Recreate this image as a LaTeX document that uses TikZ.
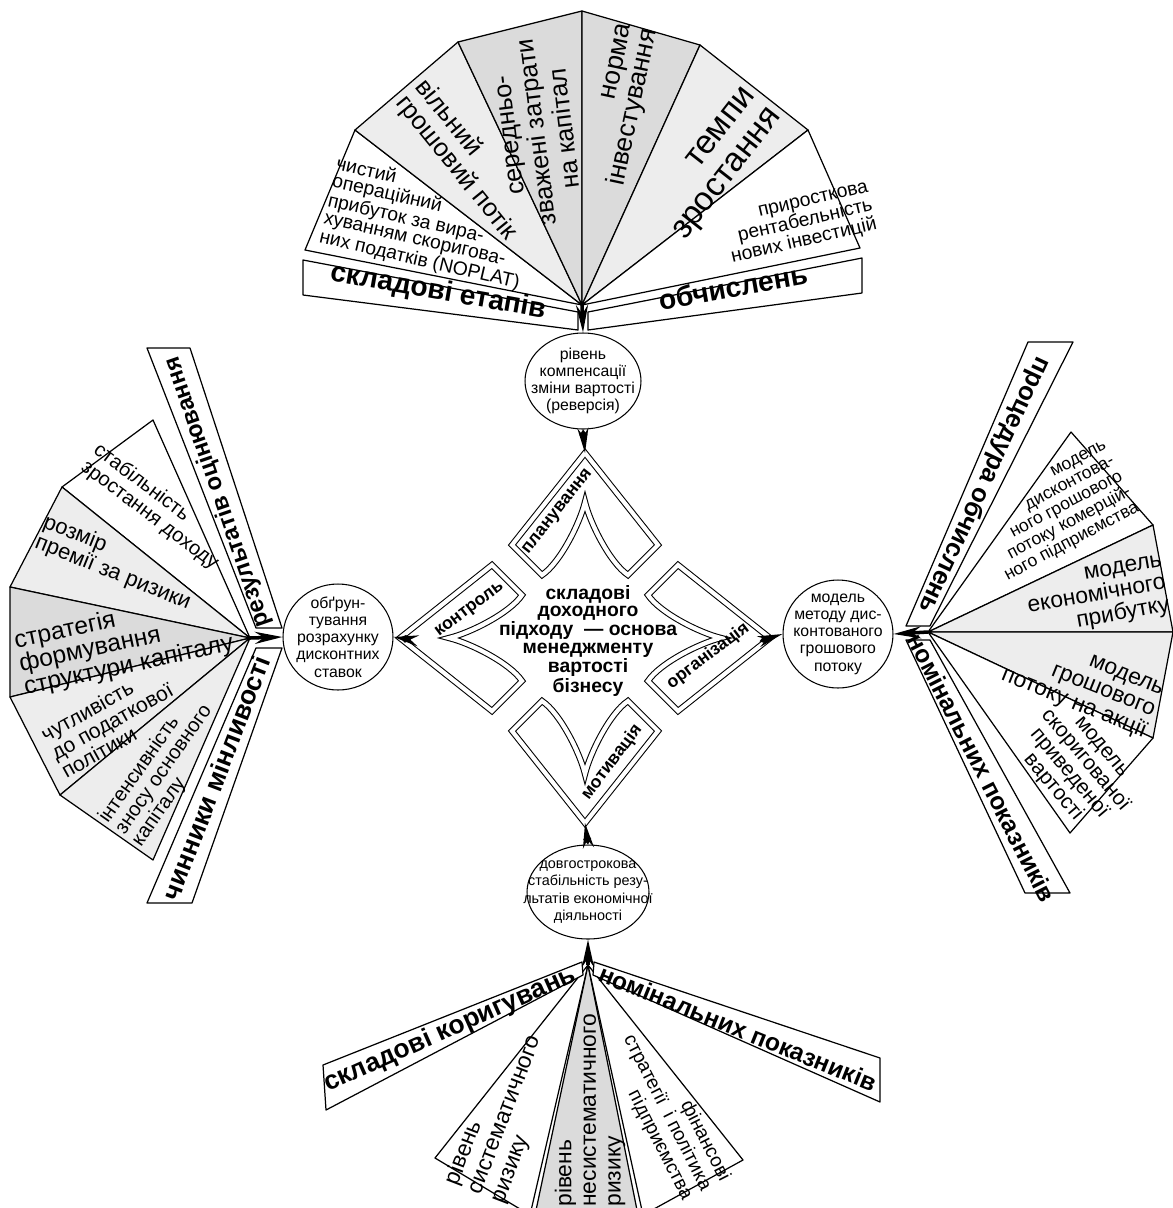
\documentclass[tikz,border=0pt]{standalone}
\usepackage{fontspec}
\setmainfont{Liberation Sans}
\usetikzlibrary{shapes.geometric, arrows.meta}
\definecolor{wedgelight}{gray}{0.93}
\definecolor{wedgedark}{gray}{0.86}
\tikzset{
  wedge/.style={draw, line width=0.7pt, line join=round},
  band/.style={draw, fill=white, line width=0.7pt, line join=round},
  fsz/.style 2 args={font=\fontsize{#1}{#2}\selectfont},
  fantext/.style={align=center, inner sep=0pt},
  bandtext/.style={inner sep=0pt, font=\bfseries\fontsize{#1}{#1}\selectfont},
  bandtext/.default=15,
  bubble/.style={ellipse, draw, line width=0.6pt, inner sep=0pt},
  bubbletext/.style={align=center, inner sep=0pt, font=\fontsize{9}{9.8}\selectfont},
  cushion/.style={draw, double, double distance=2.4pt, line width=0.6pt, line join=miter},
  cushiontext/.style={inner sep=0pt, font=\bfseries\fontsize{10}{10}\selectfont},
  coretext/.style={align=center, inner sep=0pt, font=\bfseries\fontsize{11}{9.8}\selectfont},
  feed/.style={line width=2pt, -{Stealth[length=0.55cm, width=0.24cm]}},
  tie/.style={line width=1.6pt, {Diamond[length=0.22cm, width=0.16cm]}-{Stealth[length=0.5cm, width=0.22cm]}}
}
\newcommand{\cushion}[2]{%
  \begin{scope}[shift={(hub)}, rotate=#1]
    \draw[cushion] (185,0) coordinate (#2) -- (93,73) -- (63,43)
      .. controls (75,25) and (115,5) .. (136,0)
      .. controls (115,-5) and (75,-25) .. (63,-43) -- (93,-73) -- cycle;
  \end{scope}}

\begin{document}
\begin{tikzpicture}[x=0.02cm, y=-0.02cm]
\clip (0,0) rectangle (1173,1208);

% centre of the scheme
\coordinate (hub) at (585,638);
\cushion{90}{plantip}
\cushion{180}{ctrltip}
\cushion{0}{orgtip}
\cushion{270}{motivtip}
\node[coretext] (core) at (588,641) {складові\\доходного\\підходу \ — основа\\менеджменту\\вартості\\бізнесу};
\node[cushiontext, rotate=52] (plan) at (558,512) {планування};
\node[cushiontext, rotate=37] (ctrl) at (470,610) {контроль};
\node[cushiontext, rotate=37] (org) at (708,656) {організація};
\node[cushiontext, rotate=53] (motiv) at (612,762) {мотивація};

% ellipses
\node[bubble, minimum width=2.32cm, minimum height=1.92cm,
  label={[bubbletext]center:{рівень\\компенсації\\зміни вартості\\(реверсія)}}] (reverse) at (583,381) {};
\node[bubble, minimum width=2.2cm, minimum height=2.12cm,
  label={[bubbletext]center:{обґрун-\\тування\\розрахунку\\дисконтних\\ставок}}] (rates) at (338,637) {};
\node[bubble, minimum width=2.2cm, minimum height=2.16cm,
  label={[bubbletext]center:{модель\\методу дис-\\контованого\\грошового\\потоку}}] (dcf) at (838,634) {};
\node[bubble, minimum width=2.44cm, minimum height=1.88cm,
  label={[bubbletext, fsz={8.2}{9.8}]center:{довгострокова\\стабільність резу-\\льтатів економічної\\діяльності}}] (stab) at (588,892) {};

\draw[tie] (reverse.south) -- (plantip);
\draw[tie] (ctrltip) -- (rates.east);
\draw[tie] (orgtip) -- (dcf.west);
\draw[tie] (stab.north) -- (motivtip);

% top fan
\coordinate (topapex) at (582,305);
\filldraw[wedge, fill=white] (topapex) -- (305,250) -- (355,130) -- cycle;
\filldraw[wedge, fill=wedgelight] (topapex) -- (355,130) -- (458,42) -- cycle;
\filldraw[wedge, fill=wedgedark] (topapex) -- (458,42) -- (582,11) -- cycle;
\filldraw[wedge, fill=wedgedark] (topapex) -- (582,11) -- (700,45) -- cycle;
\filldraw[wedge, fill=wedgelight] (topapex) -- (700,45) -- (808,130) -- cycle;
\filldraw[wedge, fill=white] (topapex) -- (808,130) -- (860,248) -- cycle;
\filldraw[band] (303,260) -- (303,295) -- (578,330) -- (578,312) -- cycle;
\filldraw[band] (862,258) -- (862,293) -- (588,330) -- (588,312) -- cycle;
\node[fantext, align=left, fsz={11}{10}, rotate=-13] (noplat) at (428,224) {чистий\\операційний\\прибуток за вира-\\хуванням скоригова-\\них податків (NOPLAT)};
\node[fantext, align=left, fsz={14.5}{14.5}, rotate=-51] (fcf) at (466,160) {вільний\\грошовий потік};
\node[fantext, fsz={14.5}{16}, rotate=97] (wacc) at (538,132) {середньо-\\зважені затрати\\на капітал};
\node[fantext, align=right, fsz={15}{15}, rotate=78] (invrate) at (623,105) {норма\\інвестування};
\node[fantext, align=right, fsz={19}{19}, rotate=52] (growth) at (716,165) {темпи\\зростання};
\node[fantext, align=right, fsz={11}{11}, rotate=13] (roic) at (800,224) {приросткова\\рентабельність\\нових інвестицій};
\node[bandtext=16, rotate=-10] (stages) at (438,292) {складові етапів};
\node[bandtext=16, rotate=10] (calc) at (733,287) {обчислень};
\draw[feed] (topapex) -- (reverse.north);

% left fan
\coordinate (leftapex) at (250,638);
\filldraw[wedge, fill=white] (leftapex) -- (153,420) -- (62,487) -- cycle;
\filldraw[wedge, fill=wedgelight] (leftapex) -- (62,487) -- (10,587) -- cycle;
\filldraw[wedge, fill=wedgedark] (leftapex) -- (10,587) -- (10,697) -- cycle;
\filldraw[wedge, fill=wedgelight] (leftapex) -- (10,697) -- (60,795) -- cycle;
\filldraw[wedge, fill=wedgelight] (leftapex) -- (60,795) -- (153,860) -- cycle;
\filldraw[band] (147,348) -- (190,348) -- (282,628) -- (256,628) -- cycle;
\filldraw[band] (147,903) -- (192,903) -- (282,648) -- (256,648) -- cycle;
\node[fantext, align=left, fsz={11.5}{12}, rotate=-37] (income) at (156,507) {стабільність\\зростання доходу};
\node[fantext, align=left, fsz={12.5}{12.5}, rotate=-22] (premium) at (117,563) {розмір\\премії за ризики};
\node[fantext, align=left, fsz={14}{13.5}, rotate=12] (structure) at (124,643) {стратегія\\формування\\структури капіталу};
\node[fantext, align=left, fsz={12}{12}, rotate=29] (tax) at (112,721) {чутливість\\до податкової\\політики};
\node[fantext, align=left, fsz={11.5}{11.5}, rotate=55] (wear) at (164,770) {інтенсивність\\зносу основного\\капіталу};
\node[bandtext=13.5, rotate=109] (assess) at (218,492) {результатів оцінювання};
\node[bandtext, rotate=69] (factors) at (216,778) {чинники мінливості};
\draw[feed] (leftapex) -- (rates.west);

% right fan
\coordinate (rightapex) at (928,632);
\filldraw[wedge, fill=white] (rightapex) -- (1071,432) -- (1153,525) -- cycle;
\filldraw[wedge, fill=wedgelight] (rightapex) -- (1153,525) -- (1173,632) -- cycle;
\filldraw[wedge, fill=wedgelight] (rightapex) -- (1173,632) -- (1153,738) -- cycle;
\filldraw[wedge, fill=white] (rightapex) -- (1153,738) -- (1070,833) -- cycle;
\filldraw[band] (1028,342) -- (1073,342) -- (930,626) -- (906,626) -- cycle;
\filldraw[band] (906,640) -- (930,640) -- (1070,893) -- (1025,893) -- cycle;
\node[fantext, align=right, fsz={10}{10}, rotate=28] (dcfe) at (1056,512) {модель\\дисконтова-\\ного грошового\\потоку комерцій-\\ного підприємства};
\node[fantext, align=right, fsz={13}{13}, rotate=10] (ep) at (1097,597) {модель\\економічного\\прибутку};
\node[fantext, align=right, fsz={13}{13}, rotate=-22] (fcfe) at (1082,684) {модель\\грошового\\потоку на акції};
\node[fantext, fsz={12}{12}, rotate=-50] (apv) at (1076,768) {модель\\скоригованої\\приведеної\\вартості};
\node[bandtext=14.5, rotate=-115] (procedure) at (984,485) {процедура обчислень};
\node[bandtext=14, rotate=-63] (nominal) at (982,768) {номінальних показників};
\draw[feed] (rightapex) -- (dcf.east);

% bottom fan
\coordinate (botapex) at (588,965);
\filldraw[wedge, fill=white] (botapex) -- (435,1158) -- (530,1215) -- cycle;
\filldraw[wedge, fill=wedgedark] (botapex) -- (535,1215) -- (638,1215) -- cycle;
\filldraw[wedge, fill=white] (botapex) -- (643,1215) -- (743,1160) -- cycle;
\filldraw[band] (323,1065) -- (326,1110) -- (583,975) -- (582,962) -- cycle;
\filldraw[band] (594,962) -- (593,975) -- (880,1102) -- (880,1058) -- cycle;
\node[fantext, align=left, fsz={13}{14}, rotate=69] (sysrisk) at (505,1115) {рівень\\систематичного\\ризику};
\node[fantext, align=left, fsz={13}{14}, rotate=90, anchor=west] (unsysrisk) at (590,1207) {рівень\\несистематичного\\ризику};
\node[fantext, align=right, fsz={11}{12}, rotate=-63] (policy) at (667,1113) {фінансові\\стратегії \ і політика\\підприємства};
\node[bandtext, rotate=24] (adjust) at (450,1030) {складові коригувань};
\node[bandtext=14, rotate=-22] (nominalb) at (738,1028) {номінальних показників};
\draw[feed] (botapex) -- (stab.south);
\end{tikzpicture}
\end{document}
